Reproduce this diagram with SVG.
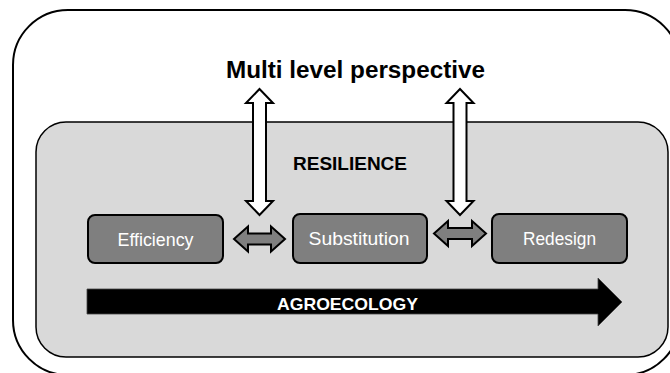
<svg xmlns="http://www.w3.org/2000/svg" width="670" height="373" viewBox="0 0 670 373">
<style>
.lbl{font-family:"Liberation Sans",Arial,sans-serif;}
.box{fill:#7f7f7f;stroke:#000;stroke-width:2;}
.btxt{font-family:"Liberation Sans",Arial,sans-serif;font-size:17.5px;fill:#fff;text-anchor:middle;}
.varr{fill:#fff;stroke:#000;stroke-width:2;stroke-linejoin:miter;}
.harr{fill:#7f7f7f;stroke:#000;stroke-width:2;stroke-linejoin:miter;}
</style>
<rect width="670" height="373" fill="#fff"/>
<g id="frame">
<rect x="13" y="10" width="667" height="365" rx="55" ry="55" fill="#fff" stroke="#000" stroke-width="2"/>
<text class="lbl" x="355.5" y="78" font-size="23" font-weight="bold" text-anchor="middle" textLength="259" lengthAdjust="spacingAndGlyphs">Multi level perspective</text>
</g>
<g id="resilience">
<rect x="36" y="122" width="632" height="235" rx="30" ry="30" fill="#d9d9d9" stroke="#000" stroke-width="1.5"/>
<text class="lbl" x="350" y="170" font-size="19" font-weight="bold" text-anchor="middle" textLength="114" lengthAdjust="spacingAndGlyphs">RESILIENCE</text>
</g>
<g id="agroecology">
<polygon points="87,289 598,289 598,278 622,302 598,326 598,314 87,314" fill="#000" stroke="#444" stroke-width="0.8"/>
<text class="lbl" x="347.5" y="310" font-size="17" font-weight="bold" fill="#fff" text-anchor="middle" textLength="141" lengthAdjust="spacingAndGlyphs">AGROECOLOGY</text>
</g>
<g id="efficiency">
<rect class="box" x="88" y="215" width="135" height="48" rx="7"/>
<text class="btxt" x="155.5" y="246" textLength="76" lengthAdjust="spacingAndGlyphs">Efficiency</text>
</g>
<g id="substitution">
<rect class="box" x="293" y="214" width="134" height="49" rx="7"/>
<text class="btxt" x="359" y="245" textLength="101" lengthAdjust="spacingAndGlyphs">Substitution</text>
</g>
<g id="redesign">
<rect class="box" x="492" y="214" width="135" height="49" rx="7"/>
<text class="btxt" x="559.5" y="245" textLength="73" lengthAdjust="spacingAndGlyphs">Redesign</text>
</g>
<g id="connectors">
<polygon class="varr" points="259.5,89 273,103 266,103 266,201 273,201 259.5,215 246,201 253,201 253,103 246,103"/>
<polygon class="varr" points="460,89 473.5,103 466.5,103 466.5,201 473.5,201 460,215 446.5,201 453.5,201 453.5,103 446.5,103"/>
<polygon class="harr" points="234,239 248,226.5 248,233.5 271,233.5 271,226.5 285,239 271,251.5 271,244.5 248,244.5 248,251.5"/>
<polygon class="harr" points="434,233.5 448,221 448,228 472,228 472,221 486,233.5 472,246 472,239 448,239 448,246"/>
</g>
</svg>
